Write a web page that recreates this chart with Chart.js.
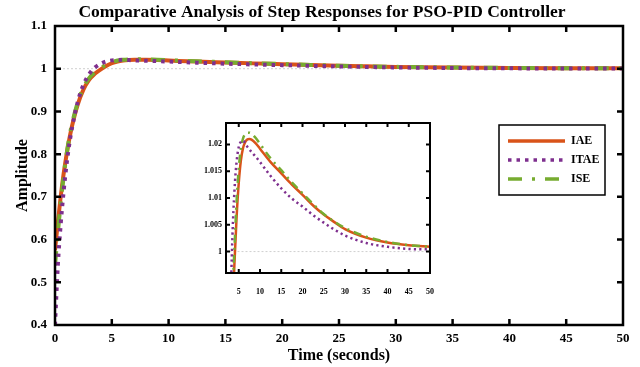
<!DOCTYPE html>
<html>
<head>
<meta charset="utf-8">
<script src="https://cdn.jsdelivr.net/npm/chart.js@4"></script>
<style>
  body { margin: 0; background: #fff; }
  #wrap { position: relative; width: 640px; height: 367px; }
  #main { position: absolute; left: 0; top: 0; }
  #inset { position: absolute; left: 195px; top: 118px; background: #fff; }
</style>
</head>
<body>
<div id="wrap">
  <canvas id="main" width="640" height="367"></canvas>
  <canvas id="inset" width="242" height="182"></canvas>
</div>
<script>
// step response samples
const time = [0, 0.25, 0.5, 0.75, 1, 1.25, 1.5, 2, 2.5, 3, 3.5, 4, 4.5, 5, 5.5, 6, 6.5, 7, 7.5, 8, 9, 10, 12.5, 15, 17.5, 20, 22.5, 25, 27.5, 30, 35, 40, 45, 50];
const iae  = [0.575, 0.64, 0.70, 0.752, 0.796, 0.834, 0.866, 0.916, 0.951, 0.974, 0.988, 0.998, 1.0065, 1.0128, 1.017, 1.0193, 1.0204, 1.0209, 1.021, 1.0209, 1.0202, 1.0192, 1.0167, 1.0146, 1.0125, 1.0106, 1.0086, 1.0069, 1.0055, 1.0042, 1.0026, 1.0017, 1.0012, 1.0009];
const itae = [0.40, 0.54, 0.635, 0.71, 0.772, 0.822, 0.862, 0.922, 0.962, 0.987, 1.0025, 1.0115, 1.0168, 1.0195, 1.0205, 1.0207, 1.0203, 1.0196, 1.0191, 1.0186, 1.0177, 1.0167, 1.0141, 1.0118, 1.0099, 1.0084, 1.0068, 1.0054, 1.0041, 1.003, 1.0016, 1.0009, 1.0005, 1.0004];
const ise  = [0.54, 0.615, 0.685, 0.745, 0.796, 0.838, 0.871, 0.921, 0.956, 0.978, 0.9915, 1.0008, 1.0095, 1.0155, 1.0192, 1.0211, 1.0219, 1.0222, 1.0222, 1.022, 1.0212, 1.0201, 1.0174, 1.0152, 1.0129, 1.0109, 1.0089, 1.007, 1.0056, 1.0044, 1.0028, 1.0018, 1.0012, 1.0009];
const seriesNames = ["IAE", "ITAE", "ISE"];
const referenceLevel = 1;

const mainXTicks = [0, 5, 10, 15, 20, 25, 30, 35, 40, 45, 50];
const mainYTicks = [0.4, 0.5, 0.6, 0.7, 0.8, 0.9, 1, 1.1];
const insetXTicks = [5, 10, 15, 20, 25, 30, 35, 40, 45, 50];
const insetYTicks = [1, 1.005, 1.01, 1.015, 1.02];

const colors = { IAE: "#D95319", ITAE: "#7E2F8E", ISE: "#77AC30" };
const serif = "'Liberation Serif', 'Times New Roman', serif";

Chart.defaults.font.family = serif;
Chart.defaults.font.weight = "bold";
Chart.defaults.color = "#000";

const pts = (ys) => time.map((t, i) => ({ x: t, y: ys[i] }));
const fmt = (v) => String(+v.toFixed(3));
const noPad = (s) => { s.paddingLeft = 0; s.paddingRight = 0; s.paddingTop = 0; s.paddingBottom = 0; };

function makeDatasets(w, dotDash, dashDot) {
    return [
        { label: seriesNames[0], data: pts(iae), borderColor: colors.IAE, borderWidth: w, order: 3 },
        { label: seriesNames[1], data: pts(itae), borderColor: colors.ITAE, borderWidth: w, borderDash: dotDash, order: 1 },
        { label: seriesNames[2], data: pts(ise), borderColor: colors.ISE, borderWidth: w, borderDash: dashDot, order: 2 },
        {
            label: "ref",
            data: [{ x: time[0], y: referenceLevel }, { x: time[time.length - 1], y: referenceLevel }],
            borderColor: "#cfcfcf", borderWidth: 1, borderDash: [2, 2], order: 9,
        },
    ];
}

// box around the plot with inward tick marks on all four sides
const framePlugin = {
    id: "frame",
    afterDatasetsDraw(chart, args, opts) {
        const { ctx, chartArea: a, scales } = chart;
        ctx.save();
        ctx.strokeStyle = "#000";
        ctx.lineWidth = opts.width;
        ctx.beginPath();
        scales.x.ticks.forEach((t) => {
            const px = scales.x.getPixelForValue(t.value);
            if (px <= a.left + 2 || px >= a.right - 2) return;
            ctx.moveTo(px, a.bottom); ctx.lineTo(px, a.bottom - opts.len);
            ctx.moveTo(px, a.top); ctx.lineTo(px, a.top + opts.len);
        });
        scales.y.ticks.forEach((t) => {
            const py = scales.y.getPixelForValue(t.value);
            if (py <= a.top + 2 || py >= a.bottom - 2) return;
            ctx.moveTo(a.left, py); ctx.lineTo(a.left + opts.len, py);
            ctx.moveTo(a.right, py); ctx.lineTo(a.right - opts.len, py);
        });
        ctx.stroke();
        ctx.strokeRect(a.left, a.top, a.right - a.left, a.bottom - a.top);
        ctx.restore();
    },
};

// legend box drawn inside the plot area
const boxLegend = {
    id: "boxLegend",
    afterDraw(chart) {
        const { ctx, chartArea: a } = chart;
        const x0 = a.right - 124, y0 = 125, w = 106, h = 70;
        ctx.save();
        ctx.fillStyle = "#fff";
        ctx.fillRect(x0, y0, w, h);
        ctx.strokeStyle = "#000";
        ctx.lineWidth = 1.5;
        ctx.strokeRect(x0, y0, w, h);
        ctx.font = "bold 12px " + serif;
        ctx.textBaseline = "middle";
        chart.data.datasets.slice(0, 3).forEach((ds, i) => {
            const y = y0 + 16 + i * 19;
            ctx.strokeStyle = ds.borderColor;
            ctx.lineWidth = 3.5;
            ctx.setLineDash(ds.borderDash || []);
            ctx.beginPath();
            ctx.moveTo(x0 + 9, y);
            ctx.lineTo(x0 + 66, y);
            ctx.stroke();
            ctx.setLineDash([]);
            ctx.fillStyle = "#000";
            ctx.fillText(ds.label, x0 + 72, y);
        });
        ctx.restore();
    },
};

new Chart(document.getElementById("main"), {
    type: "line",
    data: { datasets: makeDatasets(4, [3.5, 5], [14, 10, 3, 10]) },
    plugins: [framePlugin, boxLegend],
    options: {
        responsive: false,
        animation: false,
        elements: { point: { radius: 0 }, line: { cubicInterpolationMode: "monotone" } },
        layout: { padding: { left: 21, right: 17, top: 0, bottom: 0 } },
        scales: {
            x: {
                type: "linear", min: 0, max: 50,
                afterBuildTicks: (s) => { s.ticks = mainXTicks.map((v) => ({ value: v })); },
                afterFit: (s) => { s.height = 42; noPad(s); },
                grid: { display: false, drawTicks: false },
                border: { display: false },
                ticks: { padding: 6, font: { size: 13, weight: "bold" }, maxRotation: 0 },
                title: { display: true, text: "Time (seconds)", font: { size: 16, weight: "bold" }, padding: { top: 0, bottom: 2 } },
            },
            y: {
                min: 0.4, max: 1.1,
                afterBuildTicks: (s) => { s.ticks = mainYTicks.map((v) => ({ value: v })); },
                afterFit: (s) => { s.width = 34; noPad(s); },
                grid: { display: false, drawTicks: false },
                border: { display: false },
                ticks: { padding: 8, font: { size: 13, weight: "bold" }, callback: fmt },
                title: { display: true, text: "Amplitude", font: { size: 16, weight: "bold" }, padding: { top: -8, bottom: 0 } },
            },
        },
        plugins: {
            legend: { display: false },
            tooltip: { enabled: false },
            title: {
                display: true,
                text: "Comparative Analysis of Step Responses for PSO-PID Controller",
                font: { size: 17.5, weight: "bold" },
                padding: { top: 2, bottom: 3 },
            },
            frame: { width: 2.5, len: 6 },
        },
    },
});

new Chart(document.getElementById("inset"), {
    type: "line",
    data: { datasets: makeDatasets(2.5, [2.2, 3.2], [8, 5, 2, 5]) },
    plugins: [framePlugin],
    options: {
        responsive: false,
        animation: false,
        elements: { point: { radius: 0 }, line: { cubicInterpolationMode: "monotone" } },
        layout: { padding: { left: 0, right: 7, top: 5, bottom: 0 } },
        scales: {
            x: {
                type: "linear", min: 2, max: 50,
                afterBuildTicks: (s) => { s.ticks = insetXTicks.map((v) => ({ value: v })); },
                afterFit: (s) => { s.height = 27; noPad(s); },
                grid: { display: false, drawTicks: false },
                border: { display: false },
                ticks: { padding: 14, font: { size: 8, weight: "bold" }, maxRotation: 0 },
            },
            y: {
                min: 0.996, max: 1.024,
                afterBuildTicks: (s) => { s.ticks = insetYTicks.map((v) => ({ value: v })); },
                afterFit: (s) => { s.width = 31; noPad(s); },
                grid: { display: false, drawTicks: false },
                border: { display: false },
                ticks: { padding: 4, font: { size: 8, weight: "bold" }, callback: fmt },
            },
        },
        plugins: {
            legend: { display: false },
            tooltip: { enabled: false },
            frame: { width: 2, len: 4 },
        },
    },
});
</script>
</body>
</html>
